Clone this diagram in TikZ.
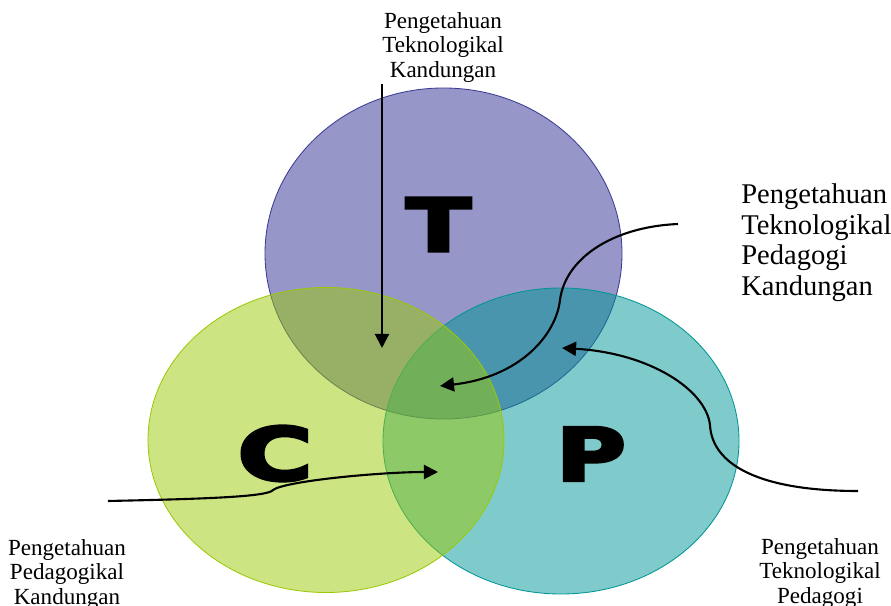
\documentclass[tikz,border=0pt]{standalone}
\usepackage{fontspec}
\setmainfont{Liberation Serif}
\newfontfamily\letterfont{DejaVu Sans}[FakeBold=4]
\usetikzlibrary{arrows.meta}
\definecolor{techblue}{RGB}{150,150,200}
\definecolor{techline}{RGB}{60,60,150}
\definecolor{contgreen}{RGB}{155,201,5}
\definecolor{pedteal}{RGB}{0,149,149}
\begin{document}
\begin{tikzpicture}[x=0.025cm,y=0.025cm,
  circ/.style={line width=0.6pt},
  big/.style={font=\letterfont\bfseries\fontsize{52}{52}\selectfont,inner sep=0pt},
  lbl/.style={align=center,inner sep=0pt,font=\fontsize{16.4}{17.4}\selectfont},
  curvy/.style={line width=1.5pt,-{Triangle[length=10pt,width=10pt]}}]
\useasboundingbox (0,0) rectangle (891,605);
% the three circles, T first, then P, then C on top
\draw[circ,draw=techline,fill=techblue] (443.5,351.5) ellipse [x radius=178.5,y radius=165.5];
\draw[circ,draw=pedteal,fill=pedteal,fill opacity=0.5] (561,164) ellipse [x radius=178,y radius=153];
\draw[circ,draw=contgreen,fill=contgreen,fill opacity=0.5] (326,165) ellipse [x radius=178,y radius=152.5];
\node[big] (T) at (438.5,380.5) {\scalebox{1.3}[1]{T}};
\node[big] (C) at (275,151.5) {\scalebox{1.4}[1]{C}};
\node[big] (P) at (591,151) {\scalebox{1.3}[1]{P}};
% labels
\node[lbl,anchor=north] (TCK) at (443,593) {Pengetahuan\\Teknologikal\\Kandungan};
\node[lbl,anchor=north west,align=left,font=\fontsize{20.3}{22}\selectfont] (TPCK) at (741,422) {Pengetahuan\\Teknologikal\\Pedagogi\\Kandungan};
\node[lbl,anchor=north] (PCK) at (67,66) {Pengetahuan\\Pedagogikal\\Kandungan};
\node[lbl,anchor=north] (TPK) at (820,67) {Pengetahuan\\Teknologikal\\Pedagogi};
% arrows
\coordinate (tckS) at (382,521); \coordinate (tckE) at (382,257);
\coordinate (tpckS) at (678,381); \coordinate (tpckE) at (440,219);
\coordinate (tpkS) at (858,114); \coordinate (tpkE) at (562,257);
\coordinate (pckS) at (108,104); \coordinate (pckE) at (438,133);
\draw[curvy] (tckS) -- (tckE);
\draw[curvy] (tpckS) .. controls (610,378) and (565,345) .. (560,305) .. controls (556,270) and (520,228) .. (tpckE);
\draw[curvy] (tpkS) .. controls (760,114) and (712,140) .. (710,180) .. controls (706,215) and (650,252) .. (tpkE);
\draw[curvy] (pckS) .. controls (200,106) and (268,108) .. (273,115) .. controls (285,124) and (380,133) .. (pckE);
\end{tikzpicture}
\end{document}
